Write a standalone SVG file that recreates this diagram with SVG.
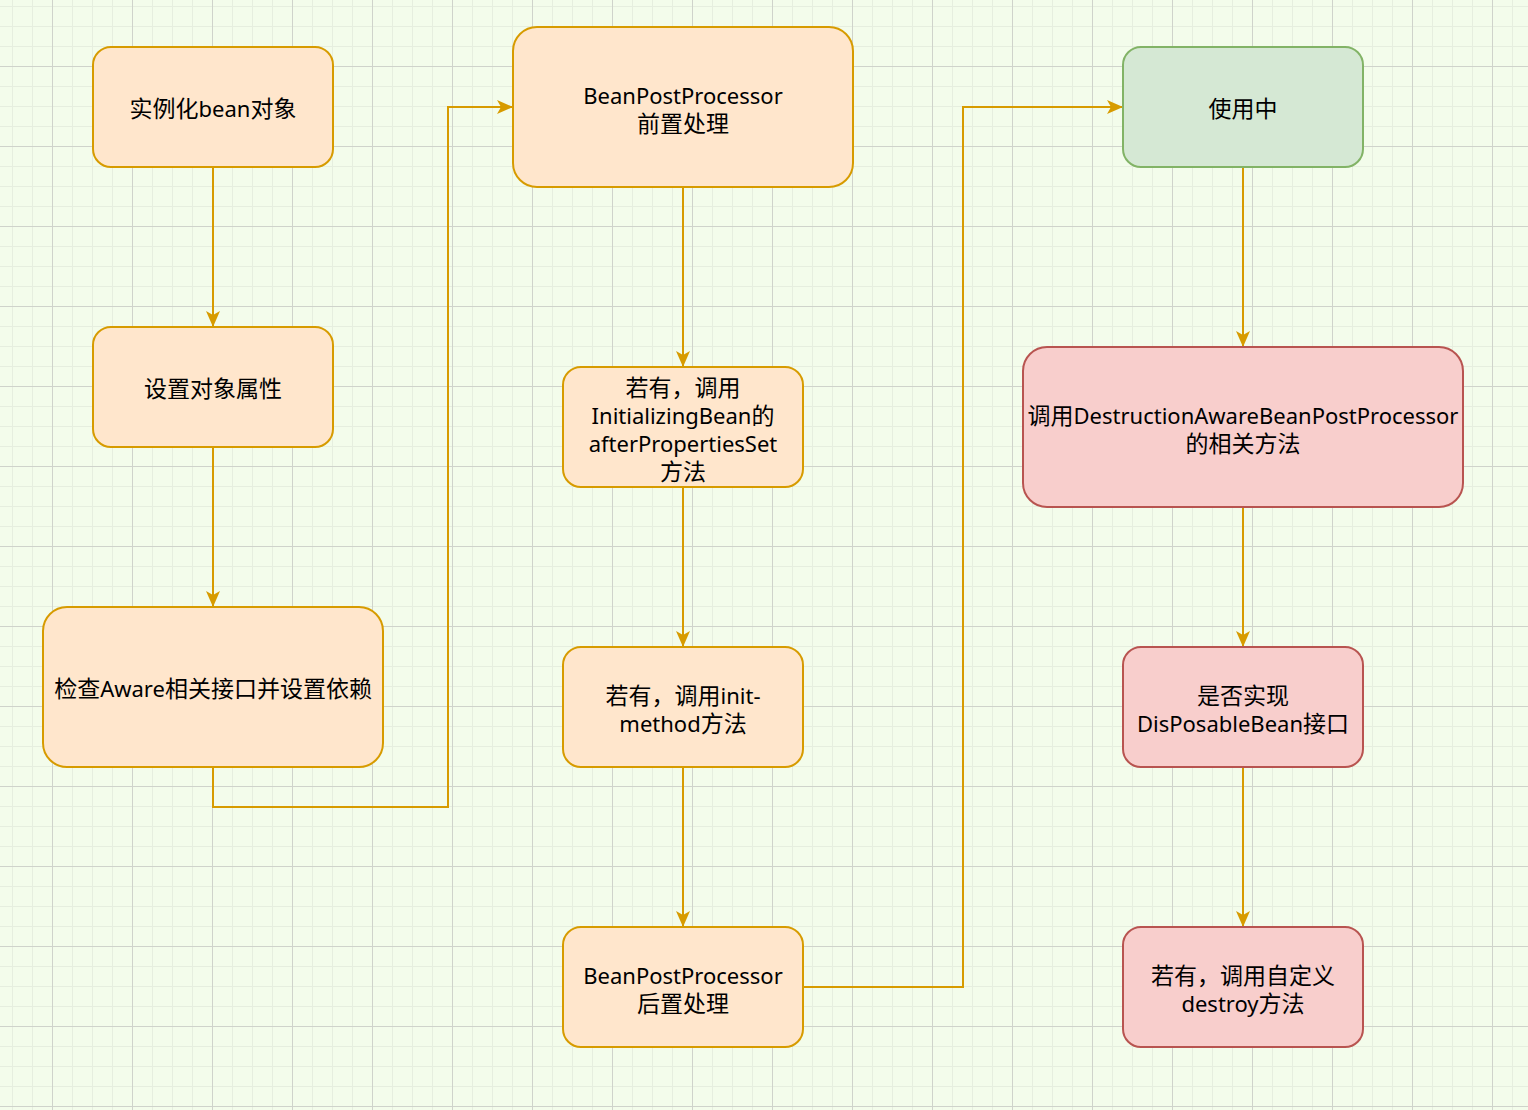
<svg xmlns="http://www.w3.org/2000/svg" width="1528" height="1110" viewBox="0 0 1528 1110">
<defs>
<pattern id="minor" x="12" y="6" width="20" height="20" patternUnits="userSpaceOnUse">
<path d="M0.5 0V20M0 0.5H20" fill="none" stroke="#e6eedf" stroke-width="1"/>
</pattern>
<pattern id="major" x="52" y="66" width="80" height="80" patternUnits="userSpaceOnUse">
<path d="M0.5 0V80M0 0.5H80" fill="none" stroke="#cfd3cb" stroke-width="1"/>
</pattern>
<marker id="arrow" viewBox="0 0 16 16" refX="15" refY="8" markerWidth="16" markerHeight="16" orient="auto" markerUnits="userSpaceOnUse">
<path d="M0 1L16 8L0 15L4 8Z" fill="#d79b00"/>
</marker>
<style>
.orange rect{fill:#ffe6cc;stroke:#d79b00;stroke-width:2}
.green rect{fill:#d5e8d4;stroke:#82b366;stroke-width:2}
.red rect{fill:#f8cecc;stroke:#b85450;stroke-width:2}
text{font-family:"Noto Sans","Noto Sans CJK SC",sans-serif;font-size:22px;fill:#000;text-anchor:middle}
.c{font-family:"Noto Sans CJK SC",sans-serif;font-size:23px}
.edge{fill:none;stroke:#d79b00;stroke-width:2;marker-end:url(#arrow)}
</style>
</defs>
<rect width="1528" height="1110" fill="#f3fceb"/>
<rect width="1528" height="1110" fill="url(#minor)"/>
<rect width="1528" height="1110" fill="url(#major)"/>

<g id="connectors">
<path class="edge" d="M213 167V326"/>
<path class="edge" d="M213 447V606"/>
<path class="edge" d="M213 767V807H448V107H512"/>
<path class="edge" d="M683 187V366"/>
<path class="edge" d="M683 487V646"/>
<path class="edge" d="M683 767V926"/>
<path class="edge" d="M803 987H963V107H1122"/>
<path class="edge" d="M1243 167V346"/>
<path class="edge" d="M1243 507V646"/>
<path class="edge" d="M1243 767V926"/>
</g>

<g id="node-instantiate" class="orange">
<rect x="93" y="47" width="240" height="120" rx="18"/>
<text x="213" y="117"><tspan class="c">实例化</tspan>bean<tspan class="c">对象</tspan></text>
</g>
<g id="node-set-props" class="orange">
<rect x="93" y="327" width="240" height="120" rx="18"/>
<text x="213" y="397" class="c">设置对象属性</text>
</g>
<g id="node-aware" class="orange">
<rect x="43" y="607" width="340" height="160" rx="24"/>
<text x="213" y="697"><tspan class="c">检查</tspan>Aware<tspan class="c">相关接口并设置依赖</tspan></text>
</g>
<g id="node-bpp-before" class="orange">
<rect x="513" y="27" width="340" height="160" rx="24"/>
<text x="683" y="104">BeanPostProcessor</text>
<text x="683" y="132" class="c">前置处理</text>
</g>
<g id="node-initializing" class="orange">
<rect x="563" y="367" width="240" height="120" rx="18"/>
<text x="683" y="396" class="c">若有，调用</text>
<text x="683" y="424">InitializingBean<tspan class="c">的</tspan></text>
<text x="683" y="452">afterPropertiesSet</text>
<text x="683" y="480" class="c">方法</text>
</g>
<g id="node-init-method" class="orange">
<rect x="563" y="647" width="240" height="120" rx="18"/>
<text x="683" y="704"><tspan class="c">若有，调用</tspan>init-</text>
<text x="683" y="732">method<tspan class="c">方法</tspan></text>
</g>
<g id="node-bpp-after" class="orange">
<rect x="563" y="927" width="240" height="120" rx="18"/>
<text x="683" y="984">BeanPostProcessor</text>
<text x="683" y="1012" class="c">后置处理</text>
</g>
<g id="node-in-use" class="green">
<rect x="1123" y="47" width="240" height="120" rx="18"/>
<text x="1243" y="117" class="c">使用中</text>
</g>
<g id="node-destruction-aware" class="red">
<rect x="1023" y="347" width="440" height="160" rx="24"/>
<text x="1243" y="424"><tspan class="c">调用</tspan>DestructionAwareBeanPostProcessor</text>
<text x="1243" y="452" class="c">的相关方法</text>
</g>
<g id="node-disposable" class="red">
<rect x="1123" y="647" width="240" height="120" rx="18"/>
<text x="1243" y="704" class="c">是否实现</text>
<text x="1243" y="732">DisPosableBean<tspan class="c">接口</tspan></text>
</g>
<g id="node-destroy" class="red">
<rect x="1123" y="927" width="240" height="120" rx="18"/>
<text x="1243" y="984" class="c">若有，调用自定义</text>
<text x="1243" y="1012">destroy<tspan class="c">方法</tspan></text>
</g>
</svg>
